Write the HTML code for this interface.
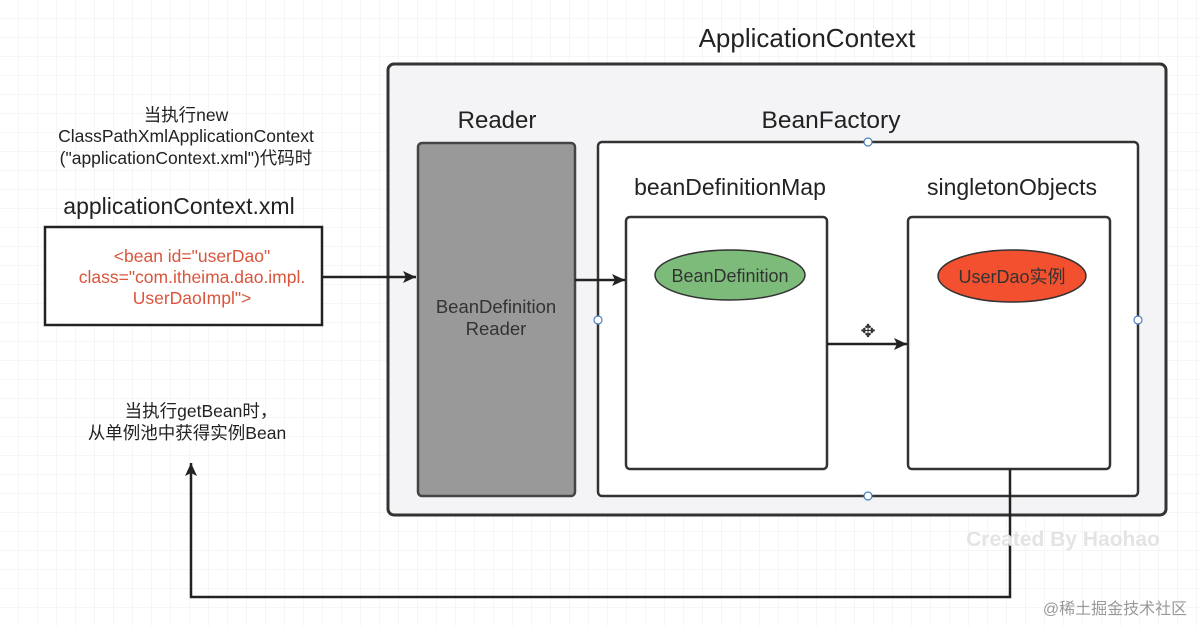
<!DOCTYPE html>
<html><head><meta charset="utf-8"><style>
body{margin:0;background:#fff}
svg text{font-family:"Liberation Sans","Noto Sans CJK SC",sans-serif}
</style></head><body>
<svg width="1200" height="626" xmlns="http://www.w3.org/2000/svg">
<defs>
<pattern id="g" width="19" height="19" patternUnits="userSpaceOnUse"><path d="M19 0V19H0" fill="none" stroke="#ececec" stroke-width="1"/></pattern>
<marker id="b" markerWidth="14" markerHeight="14" refX="13" refY="7" orient="auto" markerUnits="userSpaceOnUse"><path d="M0 1L13 7L0 13L3 7Z" fill="#222"/></marker>
</defs>
<rect width="1200" height="626" fill="url(#g)"/>
<text x="807" y="47" font-size="26" text-anchor="middle" fill="#222">ApplicationContext</text>
<rect x="388" y="64" width="778" height="451" rx="6" fill="#f4f4f6" stroke="#333" stroke-width="3"/>
<text x="497" y="128" font-size="24" text-anchor="middle" fill="#222">Reader</text>
<text x="831" y="128" font-size="24.5" text-anchor="middle" fill="#222">BeanFactory</text>
<rect x="418" y="143" width="157" height="353" rx="4" fill="#999" stroke="#444" stroke-width="2.5"/>
<text x="496" y="313" font-size="18.5" text-anchor="middle" fill="#333">BeanDefinition</text>
<text x="496" y="335" font-size="18.5" text-anchor="middle" fill="#333">Reader</text>
<rect x="598" y="142" width="540" height="354" rx="4" fill="#fff" stroke="#333" stroke-width="2.5"/>
<text x="730" y="195" font-size="23" text-anchor="middle" fill="#222">beanDefinitionMap</text>
<text x="1012" y="195" font-size="23" text-anchor="middle" fill="#222">singletonObjects</text>
<rect x="626" y="217" width="201" height="252" rx="4" fill="#fff" stroke="#333" stroke-width="2.5"/>
<rect x="908" y="217" width="202" height="252" rx="4" fill="#fff" stroke="#333" stroke-width="2.5"/>
<ellipse cx="730" cy="275" rx="75" ry="25" fill="#7dbb7a" stroke="#333" stroke-width="1.5"/>
<text x="730" y="282" font-size="18" text-anchor="middle" fill="#333">BeanDefinition</text>
<ellipse cx="1012" cy="276" rx="74" ry="26" fill="#f2502e" stroke="#333" stroke-width="1.5"/>
<text x="1012" y="283" font-size="18" text-anchor="middle" fill="#333">UserDao实例</text>
<g fill="#fff" stroke="#4a7fc0" stroke-width="1.2">
<circle cx="868" cy="142" r="4"/><circle cx="868" cy="496" r="4"/><circle cx="598" cy="320" r="4"/><circle cx="1138" cy="320" r="4"/></g>
<text x="868" y="337" font-size="18" text-anchor="middle" fill="#333">✥</text>
<text x="186" y="121" font-size="17.5" text-anchor="middle" fill="#222">当执行new</text>
<text x="186" y="142" font-size="17.5" text-anchor="middle" fill="#222">ClassPathXmlApplicationContext</text>
<text x="186" y="164" font-size="17.5" text-anchor="middle" fill="#222">("applicationContext.xml")代码时</text>
<text x="179" y="214" font-size="23" text-anchor="middle" fill="#222">applicationContext.xml</text>
<rect x="45" y="227" width="277" height="98" fill="#fff" stroke="#222" stroke-width="2.5"/>
<g font-size="17.5" text-anchor="middle" fill="#d9553c">
<text x="192" y="262">&lt;bean id="userDao"</text>
<text x="192" y="283">class="com.itheima.dao.impl.</text>
<text x="192" y="304">UserDaoImpl"&gt;</text></g>
<text x="201" y="417" font-size="17.5" text-anchor="middle" fill="#222">当执行getBean时，</text>
<text x="187" y="439" font-size="17.5" text-anchor="middle" fill="#222">从单例池中获得实例Bean</text>
<g stroke="#222" stroke-width="2.5" fill="none">
<line x1="322" y1="277" x2="416" y2="277" marker-end="url(#b)"/>
<line x1="575" y1="280" x2="625" y2="280" marker-end="url(#b)"/>
<line x1="827" y1="344" x2="907" y2="344" marker-end="url(#b)"/>
<polyline points="1010,469 1010,597 191,597 191,463" marker-end="url(#b)"/>
</g>
<text x="1063" y="546" font-size="21" font-weight="bold" text-anchor="middle" fill="#e4e4e4">Created By Haohao</text>
<text x="1115" y="614" font-size="16" text-anchor="middle" fill="#999">@稀土掘金技术社区</text>
</svg>
</body></html>
